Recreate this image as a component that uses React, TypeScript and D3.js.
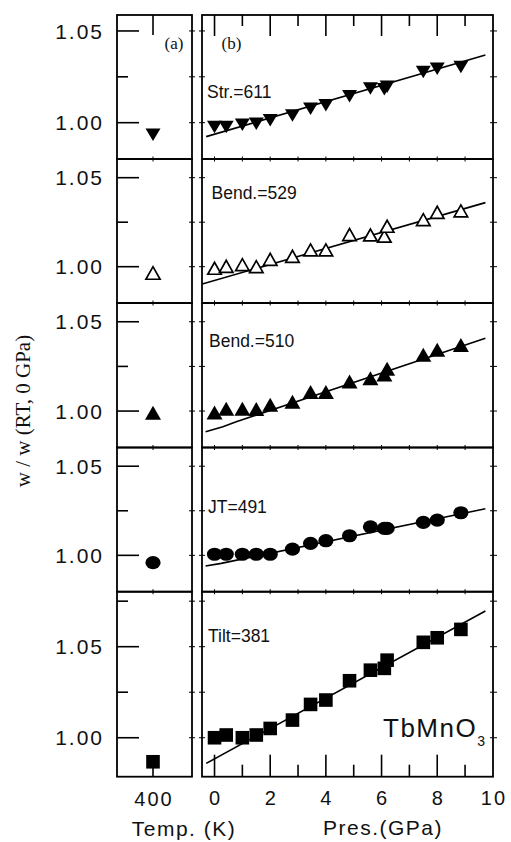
import React from "react";
import * as d3 from "d3";

// ---- data ----
const pressures = [0, 0.42, 1.0, 1.5, 2.0, 2.8, 3.45, 4.0, 4.85, 5.6, 6.1, 6.2, 7.5, 8.0, 8.85];
const strValues = [0.99875, 0.99875, 1.0, 1.0005, 1.0024, 1.0051, 1.0087, 1.0106, 1.0156, 1.0197, 1.0193, 1.0207, 1.0287, 1.0305, 1.0315];
const bend529Values = [0.998, 0.9991, 1.0, 0.9989, 1.003, 1.0047, 1.0083, 1.0083, 1.0169, 1.0167, 1.016, 1.0216, 1.0253, 1.0294, 1.0302];
const bend510Values = [0.9979, 1.0, 1.0, 0.9998, 1.0022, 1.0039, 1.0094, 1.0094, 1.0153, 1.017, 1.0192, 1.0224, 1.0302, 1.033, 1.0357];
const jtValues = [1.0006, 1.0006, 1.0006, 1.0006, 1.0006, 1.0035, 1.0067, 1.0082, 1.011, 1.016, 1.0151, 1.0151, 1.0185, 1.0198, 1.0239];
const tiltValues = [1.0, 1.0015, 1.0, 1.0015, 1.0051, 1.0097, 1.0183, 1.0207, 1.0313, 1.0371, 1.0381, 1.0426, 1.0524, 1.0549, 1.0595];

const strFit: [number, number][] = [[-0.3, 0.9924], [9.73, 1.0369]];
const bend529Fit: [number, number][] = [[-0.44, 0.9903], [9.73, 1.036]];
const bend510Fit: [number, number][] = [[-0.32, 0.9884], [0.3, 0.9912], [0.78, 0.994], [9.73, 1.0407]];
const jtFit: [number, number][] = [[-0.32, 0.994], [0.24, 0.9955], [9.73, 1.0261]];
const tiltFit: [number, number][] = [[-0.3, 0.9859], [9.73, 1.0696]];

const modeLabels = ["Str.=611", "Bend.=529", "Bend.=510", "JT=491", "Tilt=381"];
const temperature = 400;
const tempValues = [0.9945, 0.9953, 0.9978, 0.9959, 0.9868];

const xTickValues = [0, 2, 4, 6, 8, 10];
const xMinorTicks = [1, 3, 5, 7, 9];
const yMajorTicks = [1.0, 1.05];
const yMinorTicks = [1.025, 1.075];

// ---- layout ----
const W = 511, H = 842;
const LX0 = 117, LX1 = 192, RX0 = 202, RX1 = 493;
const SANS = "Arial, 'Liberation Sans', sans-serif";
const SERIF = "'Times New Roman', 'Liberation Serif', serif";
const INK = "#111";

type Marker = "down" | "openUp" | "up" | "circle" | "square";
const panels = [
  { top: 15, bottom: 159, domain: [0.9802, 1.0587], values: strValues, fit: strFit, marker: "down" as Marker, lx: 207, ly: 83 },
  { top: 159, bottom: 303, domain: [0.9796, 1.0605], values: bend529Values, fit: bend529Fit, marker: "openUp" as Marker, lx: 211.5, ly: 40 },
  { top: 303, bottom: 447.5, domain: [0.9796, 1.0605], values: bend510Values, fit: bend510Fit, marker: "up" as Marker, lx: 209, ly: 43.5 },
  { top: 447.5, bottom: 591.7, domain: [0.9796, 1.0605], values: jtValues, fit: jtFit, marker: "circle" as Marker, lx: 208, ly: 65.5 },
  { top: 591.7, bottom: 776.7, domain: [0.9786, 1.0802], values: tiltValues, fit: tiltFit, marker: "square" as Marker, lx: 208, ly: 50 },
];

const xR = d3.scaleLinear().domain([-0.45, 10]).range([RX0, RX1 - 0.1]);
const xL = d3.scaleLinear().domain([352, 452]).range([LX0, LX1]);

function MarkerShape({ type, cx, cy, s = 1 }: { type: Marker; cx: number; cy: number; s?: number }) {
  if (type === "down") {
    const w = 15 * s, h = 12.5 * s;
    const pts = [[cx - w / 2, cy - h / 3], [cx + w / 2, cy - h / 3], [cx, cy + (2 * h) / 3]];
    return <polygon points={pts.map((p) => p.join(",")).join(" ")} fill="#000" />;
  }
  if (type === "up" || type === "openUp") {
    const ww = type === "openUp" ? 13.5 * s : 16 * s;
    const hh = type === "openUp" ? 12 * s : 14 * s;
    const pts = [[cx - ww / 2, cy + hh / 3], [cx + ww / 2, cy + hh / 3], [cx, cy - (2 * hh) / 3]];
    return (
      <polygon
        points={pts.map((p) => p.join(",")).join(" ")}
        fill={type === "openUp" ? "#fff" : "#000"}
        stroke="#000"
        strokeWidth={type === "openUp" ? 1.7 : 0}
        strokeLinejoin="miter"
      />
    );
  }
  if (type === "circle") return <ellipse cx={cx} cy={cy} rx={7.6 * s} ry={6.6 * s} fill="#000" />;
  return <rect x={cx - 6.8 * s} y={cy - 6.8 * s} width={13.6 * s} height={13.6 * s} fill="#000" />;
}

export default function App() {
  const line = d3.line<[number, number]>();
  return (
    <svg width={W} height={H} style={{ display: "block", position: "absolute", left: 0, top: 0, background: "#fff" }}>
      <rect x={0} y={0} width={W} height={H} fill="#fff" />
      {panels.map((p, i) => {
        const y = d3.scaleLinear().domain(p.domain).range([p.bottom, p.top]);
        const isTop = i === 0;
        const isBottom = i === panels.length - 1;
        const majors = yMajorTicks.filter((t) => t >= p.domain[0] && t <= p.domain[1]);
        const minors = yMinorTicks.filter((t) => t >= p.domain[0] && t <= p.domain[1]);
        const fitPath = line(p.fit.map(([a, b]) => [xR(a), y(b)] as [number, number])) || "";
        return (
          <g key={i}>
            <path d={fitPath} fill="none" stroke="#000" strokeWidth={1.6} />
            {majors.map((t) => (
              <g key={"M" + t}>
                <line x1={LX0} x2={LX0 + 22} y1={y(t)} y2={y(t)} stroke="#000" strokeWidth={1.6} />
                <line x1={LX1 - 3} x2={LX1 + 3} y1={y(t)} y2={y(t)} stroke="#000" strokeWidth={1} />
                <line x1={RX0 - 3} x2={RX0 + 3} y1={y(t)} y2={y(t)} stroke="#000" strokeWidth={1} />
                <line x1={RX1 - 3} x2={RX1 + 4} y1={y(t)} y2={y(t)} stroke="#000" strokeWidth={1} />
                <text x={104} y={y(t)} dy="0.36em" textAnchor="end" fontFamily={SANS} fontSize={21} letterSpacing={2} fill={INK}>
                  {d3.format(".2f")(t)}
                </text>
              </g>
            ))}
            {minors.map((t) => (
              <g key={"m" + t}>
                <line x1={LX0} x2={LX0 + 11} y1={y(t)} y2={y(t)} stroke="#000" strokeWidth={1.6} />
                <line x1={LX1 - 3} x2={LX1 + 3} y1={y(t)} y2={y(t)} stroke="#000" strokeWidth={1} />
                <line x1={RX0 - 3} x2={RX0 + 3} y1={y(t)} y2={y(t)} stroke="#000" strokeWidth={1} />
                <line x1={RX1 - 3} x2={RX1 + 4} y1={y(t)} y2={y(t)} stroke="#000" strokeWidth={1} />
              </g>
            ))}
            {[...xTickValues, ...xMinorTicks].filter((t) => t < 10).map((t) => {
              const major = xTickValues.includes(t);
              const xx = xR(t);
              return (
                <g key={"x" + t}>
                  {isTop ? (
                    <line x1={xx} x2={xx} y1={p.top} y2={p.top + (major ? 21 : 11)} stroke="#000" strokeWidth={1.6} />
                  ) : (
                    <line x1={xx} x2={xx} y1={p.top - 2.5} y2={p.top + 2.5} stroke="#000" strokeWidth={1} />
                  )}
                  {isBottom && (
                    <line x1={xx} x2={xx} y1={p.bottom} y2={p.bottom - (major ? 22 : 12)} stroke="#000" strokeWidth={1.6} />
                  )}
                </g>
              );
            })}
            {isTop ? (
              <line x1={xL(temperature)} x2={xL(temperature)} y1={p.top} y2={p.top + 20} stroke="#000" strokeWidth={1.6} />
            ) : (
              <line x1={xL(temperature)} x2={xL(temperature)} y1={p.top - 2.5} y2={p.top + 2.5} stroke="#000" strokeWidth={1} />
            )}
            {isBottom && (
              <line x1={xL(temperature)} x2={xL(temperature)} y1={p.bottom} y2={p.bottom - 20} stroke="#000" strokeWidth={1.6} />
            )}
            {pressures.map((pr, j) => (
              <MarkerShape key={j} type={p.marker} cx={xR(pr)} cy={y(p.values[j])} />
            ))}
            <MarkerShape type={p.marker} cx={xL(temperature)} cy={y(tempValues[i])} s={p.marker === "openUp" ? 1.05 : 1} />
            <rect x={LX0} y={p.top} width={LX1 - LX0} height={p.bottom - p.top} fill="none" stroke="#000" strokeWidth={1.8} />
            <rect x={RX0} y={p.top} width={RX1 - RX0} height={p.bottom - p.top} fill="none" stroke="#000" strokeWidth={1.8} />
            <text x={p.lx} y={p.top + p.ly} fontFamily={SANS} fontSize={17.5} fill={INK}>
              {modeLabels[i]}
            </text>
          </g>
        );
      })}
      <text x={174} y={48.5} textAnchor="middle" fontFamily={SERIF} fontSize={17} fill={INK}>(a)</text>
      <text x={231.5} y={48.5} textAnchor="middle" fontFamily={SERIF} fontSize={17} fill={INK}>(b)</text>
      <text x={383} y={736.5} fontFamily={SANS} fontSize={26} letterSpacing={1.5} fill={INK}>
        TbMnO
        <tspan fontSize={14} dy={9}>3</tspan>
      </text>
      {xTickValues.map((t) => (
        <text key={t} x={xR(t) + 1} y={805} textAnchor="middle" fontFamily={SANS} fontSize={20} letterSpacing={2} fill={INK}>
          {t}
        </text>
      ))}
      <text x={xL(temperature) + 1} y={806} textAnchor="middle" fontFamily={SANS} fontSize={20} letterSpacing={2} fill={INK}>
        {temperature}
      </text>
      <text x={184} y={836} textAnchor="middle" fontFamily={SANS} fontSize={21} letterSpacing={1.5} fill={INK}>Temp. (K)</text>
      <text x={383} y={835} textAnchor="middle" fontFamily={SANS} fontSize={21} letterSpacing={1.5} fill={INK}>Pres.(GPa)</text>
      <text transform={`translate(30,411) rotate(-90)`} textAnchor="middle" fontFamily={SERIF} fontSize={21} fill={INK}>
        w / w (RT, 0 GPa)
      </text>
    </svg>
  );
}
